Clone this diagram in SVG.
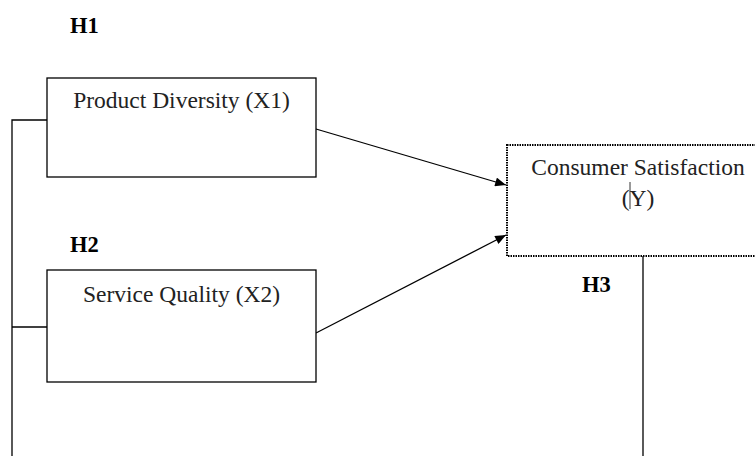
<svg xmlns="http://www.w3.org/2000/svg" width="755" height="456" viewBox="0 0 755 456">
<style>
.box{fill:#fff;stroke:#000;stroke-width:1.3}
.dot{fill:#fff;stroke:#000;stroke-width:2;stroke-dasharray:1.5 1}
.t{font-family:"Liberation Serif","Times New Roman",serif;font-size:23.5px;fill:#222;text-anchor:middle}
.h{font-family:"Liberation Serif","Times New Roman",serif;font-size:22.5px;font-weight:bold;fill:#000}
.ln{fill:none;stroke:#000;stroke-width:1.3}
</style>
<defs>
<marker id="ah" viewBox="0 0 12 10" refX="12" refY="5" markerWidth="12" markerHeight="9" markerUnits="userSpaceOnUse" orient="auto">
<path d="M0,0 L12,5 L0,10 z" fill="#000"/>
</marker>
</defs>
<g id="connectors">
<polyline class="ln" points="47,120 12,120 12,456"/>
<line class="ln" x1="12" y1="327" x2="47" y2="327"/>
<line class="ln" x1="643" y1="256" x2="643" y2="456"/>
<line class="ln" x1="316" y1="129" x2="506" y2="185" marker-end="url(#ah)"/>
<line class="ln" x1="316" y1="333" x2="506" y2="235" marker-end="url(#ah)"/>
</g>
<g id="label-h1"><text class="h" x="70" y="33">H1</text></g>
<g id="label-h2"><text class="h" x="70" y="252">H2</text></g>
<g id="label-h3"><text class="h" x="582" y="292">H3</text></g>
<g id="node-x1">
<rect class="box" x="47" y="78" width="269" height="99"/>
<text class="t" x="181.5" y="108">Product Diversity (X1)</text>
</g>
<g id="node-x2">
<rect class="box" x="47" y="270" width="269" height="112"/>
<text class="t" x="181.5" y="302">Service Quality (X2)</text>
</g>
<g id="node-y">
<rect class="dot" x="507" y="145" width="262" height="111"/>
<text class="t" x="638" y="175">Consumer Satisfaction</text>
<text class="t" x="638" y="206">(Y)</text>
<line x1="630" y1="182" x2="630" y2="209" stroke="#000" stroke-width="0.8"/>
</g>
</svg>
